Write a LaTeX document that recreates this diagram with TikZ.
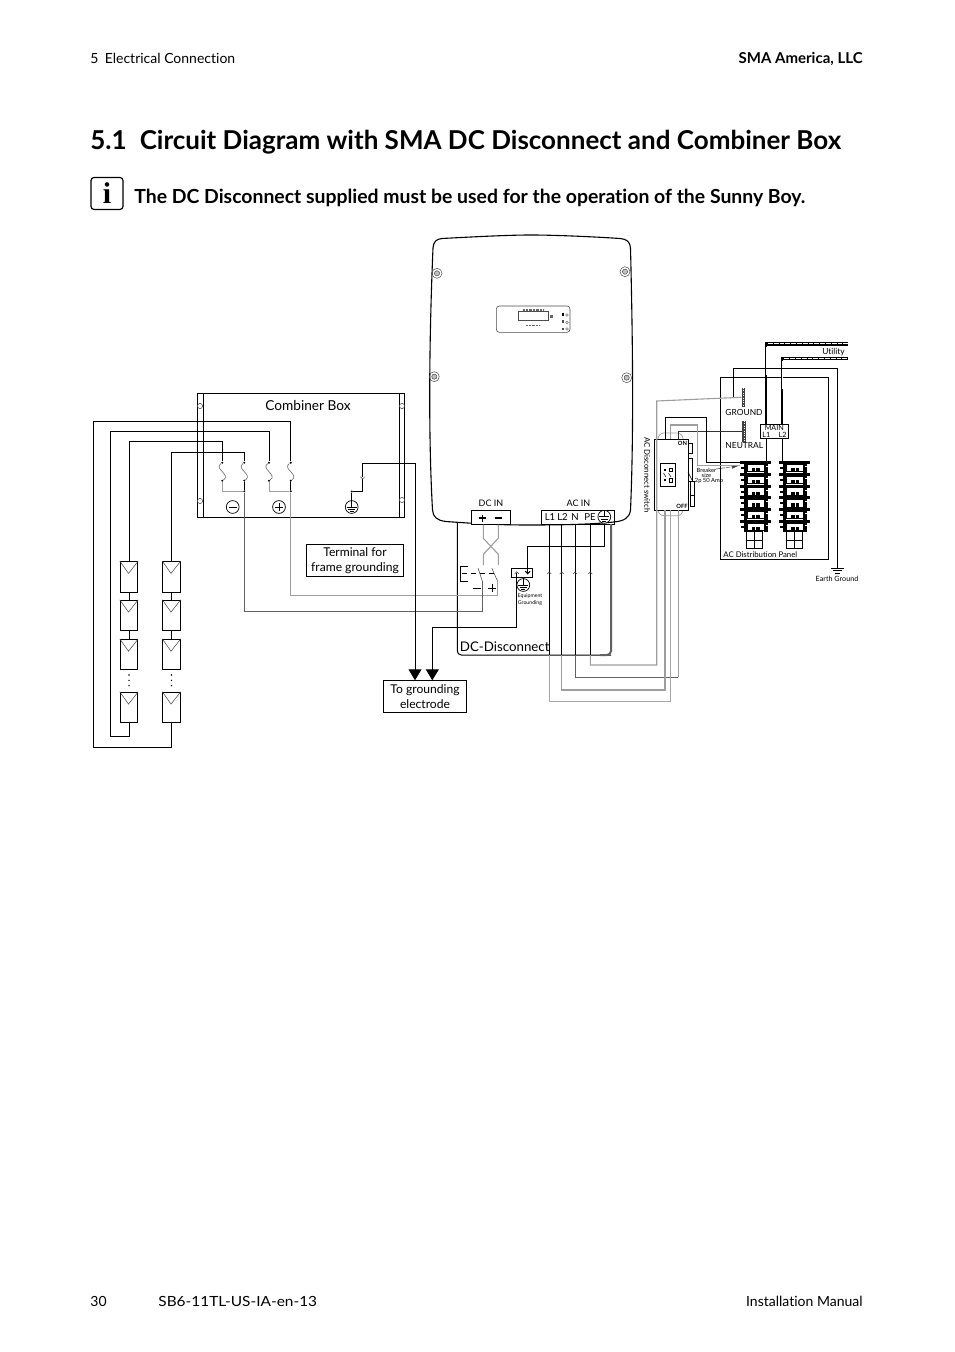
\documentclass[tikz,border=0pt]{standalone}
\usepackage{fontspec}
\setmainfont{Lato}[Ligatures=CommonOff]
\usetikzlibrary{arrows.meta,calc}
\definecolor{wiregrey}{gray}{0.62}
\definecolor{wiredark}{gray}{0.38}
\tikzset{
  txt/.style={inner sep=0pt,font=\fontsize{#1}{#1}\selectfont},
  wire/.style={draw,line width=0.5pt},
  greywire/.style={draw=wiregrey,line width=0.55pt},
  darkwire/.style={draw=wiredark,line width=0.5pt},
  thinline/.style={draw=black!75,line width=0.25pt},
  frame/.style={draw,line width=0.5pt,inner sep=0pt},
  panelbox/.style={frame,minimum width=8.7pt,minimum height=15.2pt},
  dotnode/.style={circle,fill,inner sep=0pt,minimum size=1.1pt},
  symbol/.style={circle,draw,line width=0.35pt,inner sep=0pt,minimum size=6.4pt},
  screw/.style={circle,draw=black!70,line width=0.25pt,inner sep=0pt,minimum size=2.6pt},
  gndarrow/.style={-{Triangle[width=6.5pt,length=5.5pt]}},
}
\begin{document}
\begin{tikzpicture}[x=0.5pt,y=-0.5pt]
  \useasboundingbox (0,0) rectangle (954,1352);

  % page texts
  \node[txt=7,anchor=base west] (chapter) at (90,64) {5\hspace{0.45em}Electrical Connection};
  \node[txt=7.5,anchor=base east] (company) at (863,64) {\bfseries SMA America, LLC};
  \node[txt=13,anchor=base west] (heading) at (90,150) {\bfseries 5.1\hspace{0.5em}Circuit Diagram with SMA DC Disconnect and Combiner Box};
  \node[txt=9.7,anchor=base west] (notice) at (134,204) {\bfseries The DC Disconnect supplied must be used for the operation of the Sunny Boy.};
  \node[draw,rounded corners=1.5pt,line width=0.6pt,minimum width=16pt,minimum height=16pt,inner sep=0pt] (infobox) at (107,193.5) {};
  \node[inner sep=0pt,font=\fontsize{15}{15}\selectfont] (infoi) at (107,193.5) {\fontspec{Liberation Serif}\bfseries i};
  \node[txt=7,anchor=base west] (pagenum) at (90,1306) {30};
  \node[txt=7,anchor=base west] (docnum) at (158,1306) {\addfontfeature{FakeStretch=1.1}SB6-11TL-US-IA-en-13};
  \node[txt=7,anchor=base east] (manual) at (863,1306) {Installation Manual};

  % combiner box
  \node[frame,minimum width=103.5pt,minimum height=61.5pt] (combiner) at (300.5,455.5) {};
  \draw[line width=0.9pt] (combiner.north west) -- (combiner.north east);
  \draw[line width=0.4pt] (203,394) -- (203,517);
  \draw[line width=0.4pt] (399,394) -- (399,517);
  \node[screw] (screwa) at (200,406) {};
  \node[screw] (screwb) at (200,501) {};
  \node[screw] (screwc) at (402,406) {};
  \node[screw] (screwd) at (402,500) {};
  \node[txt=6.85] (combinerlabel) at (308,406) {Combiner Box};

  \begin{scope}[every node/.style={dotnode}]
    \node (fusea) at (222.3,462.7) {};
    \node (fuseb) at (244.3,462.7) {};
    \node (fusec) at (269,462.7) {};
    \node (fused) at (290.7,462.7) {};
    \node (fuseaa) at (222.3,480.7) {};
    \node (fusebb) at (244.3,480.7) {};
    \node (fusecc) at (269,480.7) {};
    \node (fusedd) at (290.7,480.7) {};
    \node (joinb) at (244.3,491.3) {};
    \node (joind) at (290.7,491.3) {};
    \node (joing) at (351.7,491.5) {};
  \end{scope}
  \foreach \a/\b in {fusea/fuseaa,fuseb/fusebb,fusec/fusecc,fused/fusedd}
    \draw[draw=black!60,line width=0.3pt] (\a) .. controls +(-9,6) and +(9,-6) .. (\b);
  \path[greywire,line width=0.4pt] (fuseaa) |- (joinb);
  \path[greywire,line width=0.4pt] (fusecc) |- (joind);
  \path[wire] (fusebb) -- (joinb);
  \path[wire] (fusedd) -- (joind);

  \begin{scope}[every node/.style={symbol}]
    \node (minus) at (232.7,507) {};
    \node (plus) at (279,507) {};
    \node (earthbox) at (351.7,507) {};
    \node (eartheq) at (523.3,585) {};
  \end{scope}
  \draw[line width=0.35pt] (228.5,507) -- (237,507);
  \draw[line width=0.35pt] (274.8,507) -- (283.2,507) (279,502.8) -- (279,511.2);
  \foreach \n in {earthbox,eartheq} {
    \draw[line width=0.35pt] (\n.north) -- (\n.center);
    \draw[line width=0.35pt] ($(\n.center)+(-5,0)$) -- ($(\n.center)+(5,0)$);
    \draw[line width=0.5pt] ($(\n.center)+(-3.5,2.7)$) -- ($(\n.center)+(3.5,2.7)$);
    \draw[line width=0.5pt] ($(\n.center)+(-2,4.6)$) -- ($(\n.center)+(2,4.6)$);
  }

  % solar panels
  \begin{scope}[every node/.style={panelbox}]
    \node (pva) at (129,576.8) {};
    \node (pvb) at (129,615.5) {};
    \node (pvc) at (129,654.6) {};
    \node (pvd) at (129,707.5) {};
    \node (pve) at (171.5,576.8) {};
    \node (pvf) at (171.5,615.5) {};
    \node (pvg) at (171.5,654.6) {};
    \node (pvh) at (171.5,707.5) {};
  \end{scope}
  \foreach \n in {pva,pvb,pvc,pvd,pve,pvf,pvg,pvh}
    \draw[thinline] (\n.north west) -- ++(8.7,12.3) -- (\n.north east);
  \path[wire] (pva) -- (pvb) (pvb) -- (pvc) (pve) -- (pvf) (pvf) -- (pvg);
  \foreach \x in {129,171.5}
    \foreach \y in {675,680.3,685.6}
      \fill (\x,\y) circle (0.4pt);

  % strings to combiner
  \path[wire] (pvh.south) -- (171.5,747) -| (93.3,421.7) -| (fused);
  \path[wire] (pvd.south) -- (129,736.7) -| (110,431.7) -| (fusec);
  \path[wire] (pva.north) |- (fusea |- 0,441.7) -- (fusea);
  \path[wire] (pve.north) |- (fuseb |- 0,452.7) -- (fuseb);

  % terminal and grounding boxes
  \node[txt=6.05,frame,line width=0.4pt,minimum width=48.3pt,minimum height=16pt,align=center] (terminal) at (355,560.3) {Terminal for\\[1.5pt]frame grounding};
  \node[txt=6.05,frame,line width=0.4pt,minimum width=41.7pt,minimum height=15.8pt,align=center] (electrode) at (425,696.5) {To grounding\\[1.5pt]electrode};

  % inverter
  \draw[line width=0.55pt] (442,238.5) .. controls (480,236.5) and (510,235) .. (531,235)
    .. controls (552,235) and (590,236.5) .. (620,238.5)
    .. controls (627,239) and (630,242) .. (630.5,248)
    .. controls (632.5,330) and (634,430) .. (630.5,510)
    .. controls (629.5,518) and (624,521) .. (614,522)
    .. controls (590,524.5) and (560,525) .. (530,525)
    .. controls (500,525) and (480,524) .. (446,521.5)
    .. controls (437,520.5) and (433,517) .. (432.5,510)
    .. controls (428,430) and (429.5,330) .. (433,248)
    .. controls (433.5,242) and (436,239) .. (442,238.5) -- cycle;
  \foreach \n/\x/\y in {invscrewa/437/273.3,invscrewb/625/271.7,invscrewc/434.3/376.7,invscrewd/626.7/377.7} {
    \node[screw,fill=black!25] (\n) at (\x,\y) {};
    \draw[black!70,line width=0.25pt] (\n) circle (5);
  }
  \node[draw=black!70,line width=0.3pt,rounded corners=1.5pt,minimum width=36.8pt,minimum height=13.2pt,inner sep=0pt] (display) at (533.2,319.2) {};
  \node[draw=black!70,line width=0.3pt,minimum width=15pt,minimum height=4.5pt,inner sep=0pt] (lcd) at (533.3,316.2) {};
  \draw[black!60,line width=0.8pt,dash pattern=on 0.4pt off 0.3pt] (523,310) -- (544,310);
  \draw[black!60,line width=0.8pt,dash pattern=on 0.4pt off 0.3pt] (526,325.5) -- (540,325.5);
  \fill (561.5,313.5) rectangle (564,316.5);
  \fill[black!70] (561.5,320.5) rectangle (563.5,323);
  \fill[black!70] (561.5,328) rectangle (563.5,330);
  \foreach \y in {315,322.5,329}
    \draw[black!70,line width=0.2pt] (567,\y) circle (1.4);
  \fill[black!60] (550,315) rectangle (553,318);

  \node[txt=4.5] (dcinlabel) at (491,503.5) {DC IN};
  \node[txt=4.5] (acinlabel) at (578.5,503.5) {AC IN};
  \node[frame,fill=white,minimum width=19.5pt,minimum height=7.2pt] (dcin) at (490.8,517.5) {};
  \node[frame,minimum width=36.5pt,minimum height=7.2pt] (acin) at (577.8,517.5) {};
  \node[symbol,fill=white] (earthac) at (604.3,516.8) {};
  \draw[line width=0.35pt] (earthac.north) -- (earthac.center);
  \draw[line width=0.35pt] (599.3,516.8) -- (609.3,516.8);
  \draw[line width=0.5pt] (600.8,519.5) -- (607.8,519.5) (602.3,521.4) -- (606.3,521.4);
  \draw[line width=0.8pt] (479,518) -- (486,518) (482.5,514.5) -- (482.5,521.5);
  \draw[line width=0.8pt] (495,518) -- (502,518);
  \node[txt=4.8] (labell1) at (550,517.5) {L1};
  \node[txt=4.8] (labell2) at (562.5,517.5) {L2};
  \node[txt=4.8] (labeln) at (575,517.5) {N};
  \node[txt=4.8] (labelpe) at (590,517.5) {PE};

  % dc disconnect
  \path[wire,rounded corners=2pt] (457.3,523) -- (457.3,655) -- (611,655);
  \draw[draw=wiredark,line width=1pt,rounded corners=2pt] (611,524) -- (611,655) -- (600,655);
  \node[txt=6.65,anchor=west] (disconnectlabel) at (459.5,647) {DC-Disconnect};

  \coordinate (dcplus) at (483.3,524.7);
  \coordinate (dcminus) at (498.3,524.7);
  \coordinate (swa) at (478,568);
  \coordinate (swb) at (491.7,568);
  \coordinate (swaa) at (482.3,581);
  \coordinate (swbb) at (497.5,581);
  \path[greywire] (dcplus) -- (483.3,538.3) -- (498.3,554.3) -- (498.3,565);
  \path[greywire] (dcminus) -- (498.3,538.3) -- (483.3,554.3) -- (483.3,565);
  \path[thinline] (swa) -- (swaa);
  \path[thinline] (swb) -- (swbb);
  \draw[line width=0.3pt] (468,566) -| (460.7,581) -- (468,581);
  \draw[line width=0.3pt,dash pattern=on 2.5pt off 2pt] (462,573.3) -- (495,573.3);
  \draw[line width=0.35pt] (473,588) -- (481,588);
  \draw[line width=0.35pt] (488,588) -- (496,588) (492,584) -- (492,592);
  \path[greywire] (swbb) -- (497.5,595.3) -| (joind);
  \path[darkwire] (swaa) -- (482.3,611) -| (joinb);

  % equipment grounding
  \node[frame,line width=0.35pt,minimum width=10.5pt,minimum height=4.4pt] (eqbox) at (522.2,572.7) {};
  \path[wire,-{Straight Barb[length=1.3pt,width=2.4pt]}] (earthac.south) -- (604.3,546) -| (527.7,574.5);
  \draw[thinline] (514.7,573.8) -- (516.7,571.8) -- (518.7,573.8);
  \path[wire,gndarrow] (516.7,572.5) -- (516.7,627) -| (electrode.north -| 432.3,0);
  \node[txt=2.6] (eqlabela) at (530,596) {Equipment};
  \node[txt=2.6] (eqlabelb) at (530,603) {Grounding};

  % combiner ground wire
  \path[wire] (earthbox.north) -- (joing) -| (362.7,478.7);
  \draw[thinline] (360.5,476.7) -- (362.7,478.9) -- (364.9,476.7);
  \path[wire,gndarrow] (362.7,476.7) |- (415,463.7) -- (electrode.north -| 415,0);

  % ac lines
  \coordinate (ltl) at (549.3,524.7);
  \coordinate (ltr) at (561.7,524.7);
  \coordinate (ltn) at (575,524.7);
  \coordinate (ltp) at (590.3,524.7);
  \foreach \n in {ltl,ltr,ltn,ltp}
    \path[wire] (\n) -- (\n |- 0,655);
  \foreach \x in {549.3,561.7,575,590.3}
    \draw[thinline] (\x-2,574) -- (\x,572) -- (\x+2,574);

  % panel side
  \node[frame,draw=black,line width=0.5pt,minimum width=54pt,minimum height=90.7pt] (distpanel) at (774.7,468.7) {};
  \node[txt=3.9,anchor=west] (distlabel) at (723,554.8) {AC Distribution Panel};
  \node[fill=black!75,minimum width=1.8pt,minimum height=9.4pt,inner sep=0pt] (groundbar) at (743.6,397.3) {};
  \node[fill=black!75,minimum width=1.8pt,minimum height=10.3pt,inner sep=0pt] (neutralbar) at (744,431.3) {};
  \draw[white,line width=0.3pt,dash pattern=on 0.35pt off 0.85pt] (743.6,388) -- (743.6,406.5) (744,421) -- (744,441.5);
  \node[txt=4.2] (groundlabel) at (744,412.7) {GROUND};
  \node[txt=4.2] (neutrallabel) at (744.3,446) {NEUTRAL};
  \node[frame,fill=white,line width=0.35pt,minimum width=13.7pt,minimum height=7pt] (mainbox) at (774.3,431.3) {};
  \node[txt=3.6] (mainlabel) at (774.3,427.5) {MAIN};
  \node[txt=3.6] (mainl1) at (766.3,434.5) {L1};
  \node[txt=3.6] (mainl2) at (782.5,434.5) {L2};
  \node[txt=4.2] (utilitylabel) at (833.5,352) {Utility};
  \node[txt=3.6] (earthlabel) at (837,579) {Earth Ground};
  \node[txt=2.9] (breakera) at (706.5,470) {Breaker};
  \node[txt=2.9] (breakerb) at (706.5,475) {size};
  \node[txt=2.9] (breakerc) at (709,480.5) {2p 50 Amp};
  \node[txt=3.9,rotate=-90] (switchlabel) at (647.3,475) {AC Disconnect switch};

  % utility lines
  \foreach \a/\b in {766/345,782.3/359.5} {
    \draw[line width=1.1pt] (\a,424.3) -- (\a,\b-2.5);
    \draw[white,line width=0.25pt] (\a,\b+2) -- (\a,\b+30);
    \draw[line width=0.6pt] (\a,\b) -- (848,\b);
    \draw[line width=0.3pt] (\a,\b-2.5) -- (848,\b-2.5);
    \draw[line width=0.7pt,dash pattern=on 0.4pt off 2.5pt] (\a+1,\b-1.2) -- (848,\b-1.2);
  }
  \path[wire] (groundbar.west) -| (733.3,368.3) -| (837.3,568);
  \draw[line width=0.5pt] (831,568) -- (844,568);
  \draw[line width=0.4pt] (833,570.5) -- (842,570.5);
  \draw[line width=0.4pt] (835,573) -- (840,573);

  % breakers
  \foreach \s in {0,39.3} {
    \begin{scope}[xshift=\s*0.5pt]
      \fill (743.6,461) rectangle (747,531.7);
      \fill (764,461) rectangle (768,531.7);
      \foreach \r in {0,...,5} {
        \pgfmathsetmacro{\yy}{461+\r*11.75}
        \fill (740,\yy) rectangle (770.7,\yy+3);
        \draw[line width=0.25pt,fill=white] (747,\yy+3) rectangle (764,\yy+10.5);
        \fill (752,\yy+7.2) rectangle (755.2,\yy+10.8);
        \fill (756.3,\yy+7.2) rectangle (759.5,\yy+10.8);
        \fill (741,\yy+6) rectangle (747,\yy+8);
        \fill[white] (766,\yy+5) rectangle (770,\yy+6);
      }
      \draw[line width=0.35pt] (746.7,531.7) rectangle (762.7,548.3);
      \draw[line width=0.35pt] (754.7,531.7) -- (754.7,548.3) (746.7,540) -- (762.7,540);
    \end{scope}
  }
  \path[wire] (mainl1 |- mainbox.south) -- (766.3,461);
  \path[wire] (mainl2 |- mainbox.south) -- (782.5,461);

  % ac switch
  \draw[wiregrey,line width=0.35pt,rounded corners=3pt] (658,433) rectangle (683,515.7);
  \node[frame,fill=white,line width=0.5pt,minimum width=17.2pt,minimum height=35.5pt] (acswitch) at (671.5,474.5) {};
  \node[frame,line width=0.4pt,minimum width=7.8pt,minimum height=11.7pt] (outlet) at (667.8,475) {};
  \fill (663.5,468.5) rectangle (665.5,471);
  \draw[line width=0.35pt] (669.5,468) rectangle (672.5,471.5);
  \fill (663.5,478.5) rectangle (665.5,481);
  \draw[line width=0.35pt] (669.5,478.5) rectangle (672.5,482);
  \draw[line width=0.25pt] (663.5,473) -- (666,477) (668.5,473) -- (671,477);
  \fill (655.5,470) rectangle (657,473);
  \node[txt=2.9] (onlabel) at (682.5,443) {\bfseries ON};
  \node[txt=2.9] (offlabel) at (682,506) {\bfseries OFF};
  \draw[line width=0.35pt] (688.7,443) rectangle (692.7,453);
  \draw[line width=0.35pt] (688.7,458) rectangle (692.7,481.7);
  \draw[line width=0.5pt] (690.7,481.7) rectangle (694.7,495);
  \draw[line width=0.35pt] (690.7,495.7) rectangle (694.7,506.7);
  \draw[line width=0.25pt] (688,472) -- (692,480);
  \draw[thinline,-{Latex[length=3pt,width=2pt]},dash pattern=on 2pt off 0.5pt] (716,469) -- (738,466);

  % outputs to panel
  \path[greywire] (590.3,655) -- (590.3,665) -| (656.7,401) -- (groundbar.west);
  \path[darkwire] (575,655) |- (678.3,677.3);
  \path[greywire] (678.3,677.3) -- (678.3,510);
  \path[draw=black!80,line width=0.5pt] (678.3,439) |- (neutralbar.west);
  \path[greywire] (561.7,655) |- (665,690) -- (665,510);
  \path[wire] (665,439) |- (706.7,417.7) |- (740,462.3);
  \path[draw=black!35,line width=0.55pt] (549.3,655) |- (670.7,701.3) -- (670.7,510);
  \path[greywire] (670.7,439) |- (697.3,425) |- (740,465.7);
\end{tikzpicture}
\end{document}
